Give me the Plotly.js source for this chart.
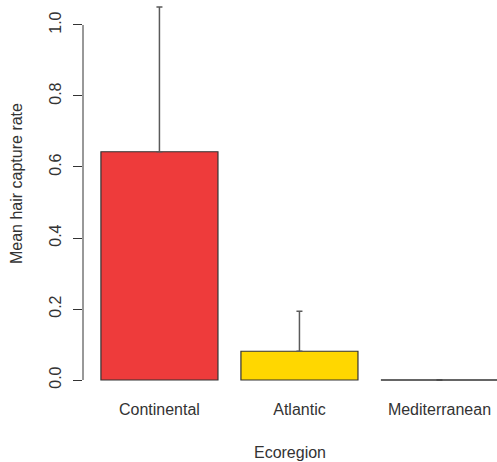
<!DOCTYPE html>
<html>
<head>
<meta charset="utf-8">
<script src="https://cdn.plot.ly/plotly-3.0.1.min.js"></script>
<style>html,body{margin:0;padding:0;background:#fff;}#chart{width:497px;height:462px;}</style>
</head>
<body>
<div id="chart"></div>
<script>
// Data
const categories = ["Continental", "Atlantic", "Mediterranean"];
const meanRate = [0.643, 0.081, 0.0];
const upperError = [0.408, 0.113, 0.0];
const barColors = ["#EE3B3B", "#FFD700", "#FFFFFF"];
const yTickValues = [0.0, 0.2, 0.4, 0.6, 0.8, 1.0];
const yTickLabels = ["0.0", "0.2", "0.4", "0.6", "0.8", "1.0"];
const xTitle = "Ecoregion";
const yTitle = "Mean hair capture rate";

const xPos = categories.map((c, i) => i);
const barWidth = 0.836;
const font = "Liberation Sans, Arial, sans-serif";
const ink = "#333333";

const trace = {
  type: "bar",
  x: xPos,
  y: meanRate,
  width: barWidth,
  marker: { color: barColors, line: { color: ink, width: 1.2 } },
  error_y: {
    type: "data",
    symmetric: false,
    array: upperError,
    arrayminus: meanRate.map(() => 0),
    color: "#5a5a5a",
    thickness: 1.5,
    width: 3
  },
  hoverinfo: "skip"
};

const shapes = [];
meanRate.forEach((v, i) => {
  if (v === 0) {
    shapes.push({
      type: "line", xref: "x", yref: "y",
      x0: xPos[i] - barWidth / 2, x1: xPos[i] + barWidth / 2,
      y0: v, y1: v,
      line: { color: ink, width: 1.2 }
    });
  }
});
shapes.push({
  type: "line", xref: "paper", yref: "y",
  x0: 0, x1: 0,
  y0: yTickValues[0], y1: yTickValues[yTickValues.length - 1],
  line: { color: ink, width: 1 }
});

const layout = {
  width: 497, height: 462,
  margin: { l: 83, r: 0, t: 5, b: 70 },
  paper_bgcolor: "#fff", plot_bgcolor: "#fff",
  font: { family: font, size: 16, color: ink },
  showlegend: false,
  xaxis: {
    range: [-0.546, 2.411],
    tickmode: "array",
    tickvals: xPos,
    ticktext: categories,
    ticks: "",
    showline: false, showgrid: false, zeroline: false,
    tickfont: { family: font, size: 16, color: ink },
    ticklabelstandoff: 6,
    title: { text: xTitle, font: { family: font, size: 16, color: ink }, standoff: 29 },
    automargin: false
  },
  yaxis: {
    range: [-0.0338, 1.0563],
    tickmode: "array",
    tickvals: yTickValues,
    ticktext: yTickLabels,
    ticks: "outside", ticklen: 9, tickcolor: ink, tickwidth: 1,
    tickangle: -90,
    showline: false, showgrid: false, zeroline: false,
    tickfont: { family: font, size: 16, color: ink },
    ticklabelstandoff: 6,
    showgrid: false,
    automargin: false
  },
  annotations: [{
    text: yTitle, textangle: -90,
    xref: "paper", yref: "y", x: 0, y: 0.552,
    xanchor: "center", yanchor: "middle",
    xshift: -67, showarrow: false,
    font: { family: font, size: 16, color: ink }
  }],
  shapes: shapes
};

Plotly.newPlot("chart", [trace], layout, { displayModeBar: false, staticPlot: true });
</script>
</body>
</html>
